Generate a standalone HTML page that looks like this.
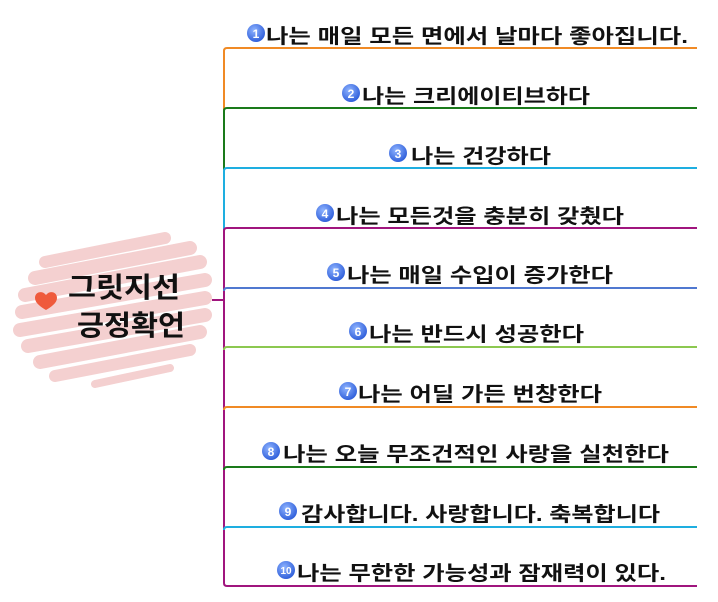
<!DOCTYPE html>
<html><head><meta charset="utf-8"><style>
html,body{margin:0;padding:0;background:#fff;}
svg{display:block}
text{font-family:"Liberation Sans","Noto Sans CJK KR","NanumGothic",sans-serif;font-weight:bold;}
</style></head><body>
<svg width="718" height="602" viewBox="0 0 718 602" xmlns="http://www.w3.org/2000/svg">
<defs>
<radialGradient id="b" cx="40%" cy="35%" r="70%"><stop offset="0" stop-color="#8fb4ff"/><stop offset="1" stop-color="#2a5ad8"/></radialGradient>
</defs>
<!-- pink scribble -->
<g stroke="#f4d0d0" stroke-linecap="round" fill="none">
<path d="M45 262 L165 238" stroke-width="12"/>
<path d="M35 278 L190 248" stroke-width="14"/>
<path d="M25 295 L200 262" stroke-width="14"/>
<path d="M22 312 L205 280" stroke-width="14"/>
<path d="M20 330 L205 298" stroke-width="14"/>
<path d="M28 346 L205 315" stroke-width="14"/>
<path d="M40 362 L200 332" stroke-width="14"/>
<path d="M55 376 L190 350" stroke-width="12"/>
<path d="M95 384 L170 368" stroke-width="8"/>
</g>
<path d="M46 295 c-4-5-11-3-11 3 c0 5 6 9 11 12 c5-3 11-7 11-12 c0-6-7-8-11-3z" fill="#ef5a3c"/>
<text x="68" y="297" font-size="28" fill="#111" textLength="112" lengthAdjust="spacingAndGlyphs">그릿지선</text>
<text x="77" y="335" font-size="28" fill="#111" textLength="108" lengthAdjust="spacingAndGlyphs">긍정확언</text>
<!-- connector -->
<line x1="212" y1="300" x2="224" y2="300" stroke="#a0157e" stroke-width="2"/>
<g fill="none" stroke-width="2">
<path d="M224 110 V51 q0-3 3-3 H697" stroke="#f08a25"/>
<path d="M224 170 V111 q0-3 3-3 H697" stroke="#1a7a1a"/>
<path d="M224 230 V171 q0-3 3-3 H697" stroke="#1eaee0"/>
<path d="M224 583 V231 q0-3 3-3 H697" stroke="#a0157e"/>
<path d="M224 291 q0-3 3-3 H697" stroke="#5078d0"/>
<path d="M224 350 q0-3 3-3 H697" stroke="#8cc850"/>
<path d="M224 410 q0-3 3-3 H697" stroke="#f08a25"/>
<path d="M224 470 q0-3 3-3 H697" stroke="#1a7a1a"/>
<path d="M224 530 q0-3 3-3 H697" stroke="#1eaee0"/>
<path d="M224 583 q0 3 3 3 H697" stroke="#a0157e"/>
</g>
<g font-size="20" fill="#111">
<g><circle cx="256" cy="33" r="9" fill="url(#b)"/><text x="256" y="38" font-size="12" fill="#fff" text-anchor="middle">1</text><text x="266" y="43" textLength="422" lengthAdjust="spacingAndGlyphs">나는 매일 모든 면에서 날마다 좋아집니다.</text></g>
<g><circle cx="351" cy="93" r="9" fill="url(#b)"/><text x="351" y="98" font-size="12" fill="#fff" text-anchor="middle">2</text><text x="362" y="103" textLength="228" lengthAdjust="spacingAndGlyphs">나는 크리에이티브하다</text></g>
<g><circle cx="398" cy="153" r="9" fill="url(#b)"/><text x="398" y="158" font-size="12" fill="#fff" text-anchor="middle">3</text><text x="411" y="163" textLength="140" lengthAdjust="spacingAndGlyphs">나는 건강하다</text></g>
<g><circle cx="325" cy="213" r="9" fill="url(#b)"/><text x="325" y="218" font-size="12" fill="#fff" text-anchor="middle">4</text><text x="336" y="223" textLength="288" lengthAdjust="spacingAndGlyphs">나는 모든것을 충분히 갖췄다</text></g>
<g><circle cx="336" cy="272" r="9" fill="url(#b)"/><text x="336" y="277" font-size="12" fill="#fff" text-anchor="middle">5</text><text x="347" y="282" textLength="266" lengthAdjust="spacingAndGlyphs">나는 매일 수입이 증가한다</text></g>
<g><circle cx="358" cy="331" r="9" fill="url(#b)"/><text x="358" y="336" font-size="12" fill="#fff" text-anchor="middle">6</text><text x="369" y="341" textLength="215" lengthAdjust="spacingAndGlyphs">나는 반드시 성공한다</text></g>
<g><circle cx="348" cy="391" r="9" fill="url(#b)"/><text x="348" y="396" font-size="12" fill="#fff" text-anchor="middle">7</text><text x="358" y="401" textLength="244" lengthAdjust="spacingAndGlyphs">나는 어딜 가든 번창한다</text></g>
<g><circle cx="271" cy="451" r="9" fill="url(#b)"/><text x="271" y="456" font-size="12" fill="#fff" text-anchor="middle">8</text><text x="283" y="461" textLength="386" lengthAdjust="spacingAndGlyphs">나는 오늘 무조건적인 사랑을 실천한다</text></g>
<g><circle cx="288" cy="511" r="9" fill="url(#b)"/><text x="288" y="516" font-size="12" fill="#fff" text-anchor="middle">9</text><text x="301" y="521" textLength="359" lengthAdjust="spacingAndGlyphs">감사합니다. 사랑합니다. 축복합니다</text></g>
<g><circle cx="286" cy="570" r="9" fill="url(#b)"/><text x="286" y="574" font-size="10" fill="#fff" text-anchor="middle">10</text><text x="297" y="580" textLength="369" lengthAdjust="spacingAndGlyphs">나는 무한한 가능성과 잠재력이 있다.</text></g>
</g>
</svg>
</body></html>
